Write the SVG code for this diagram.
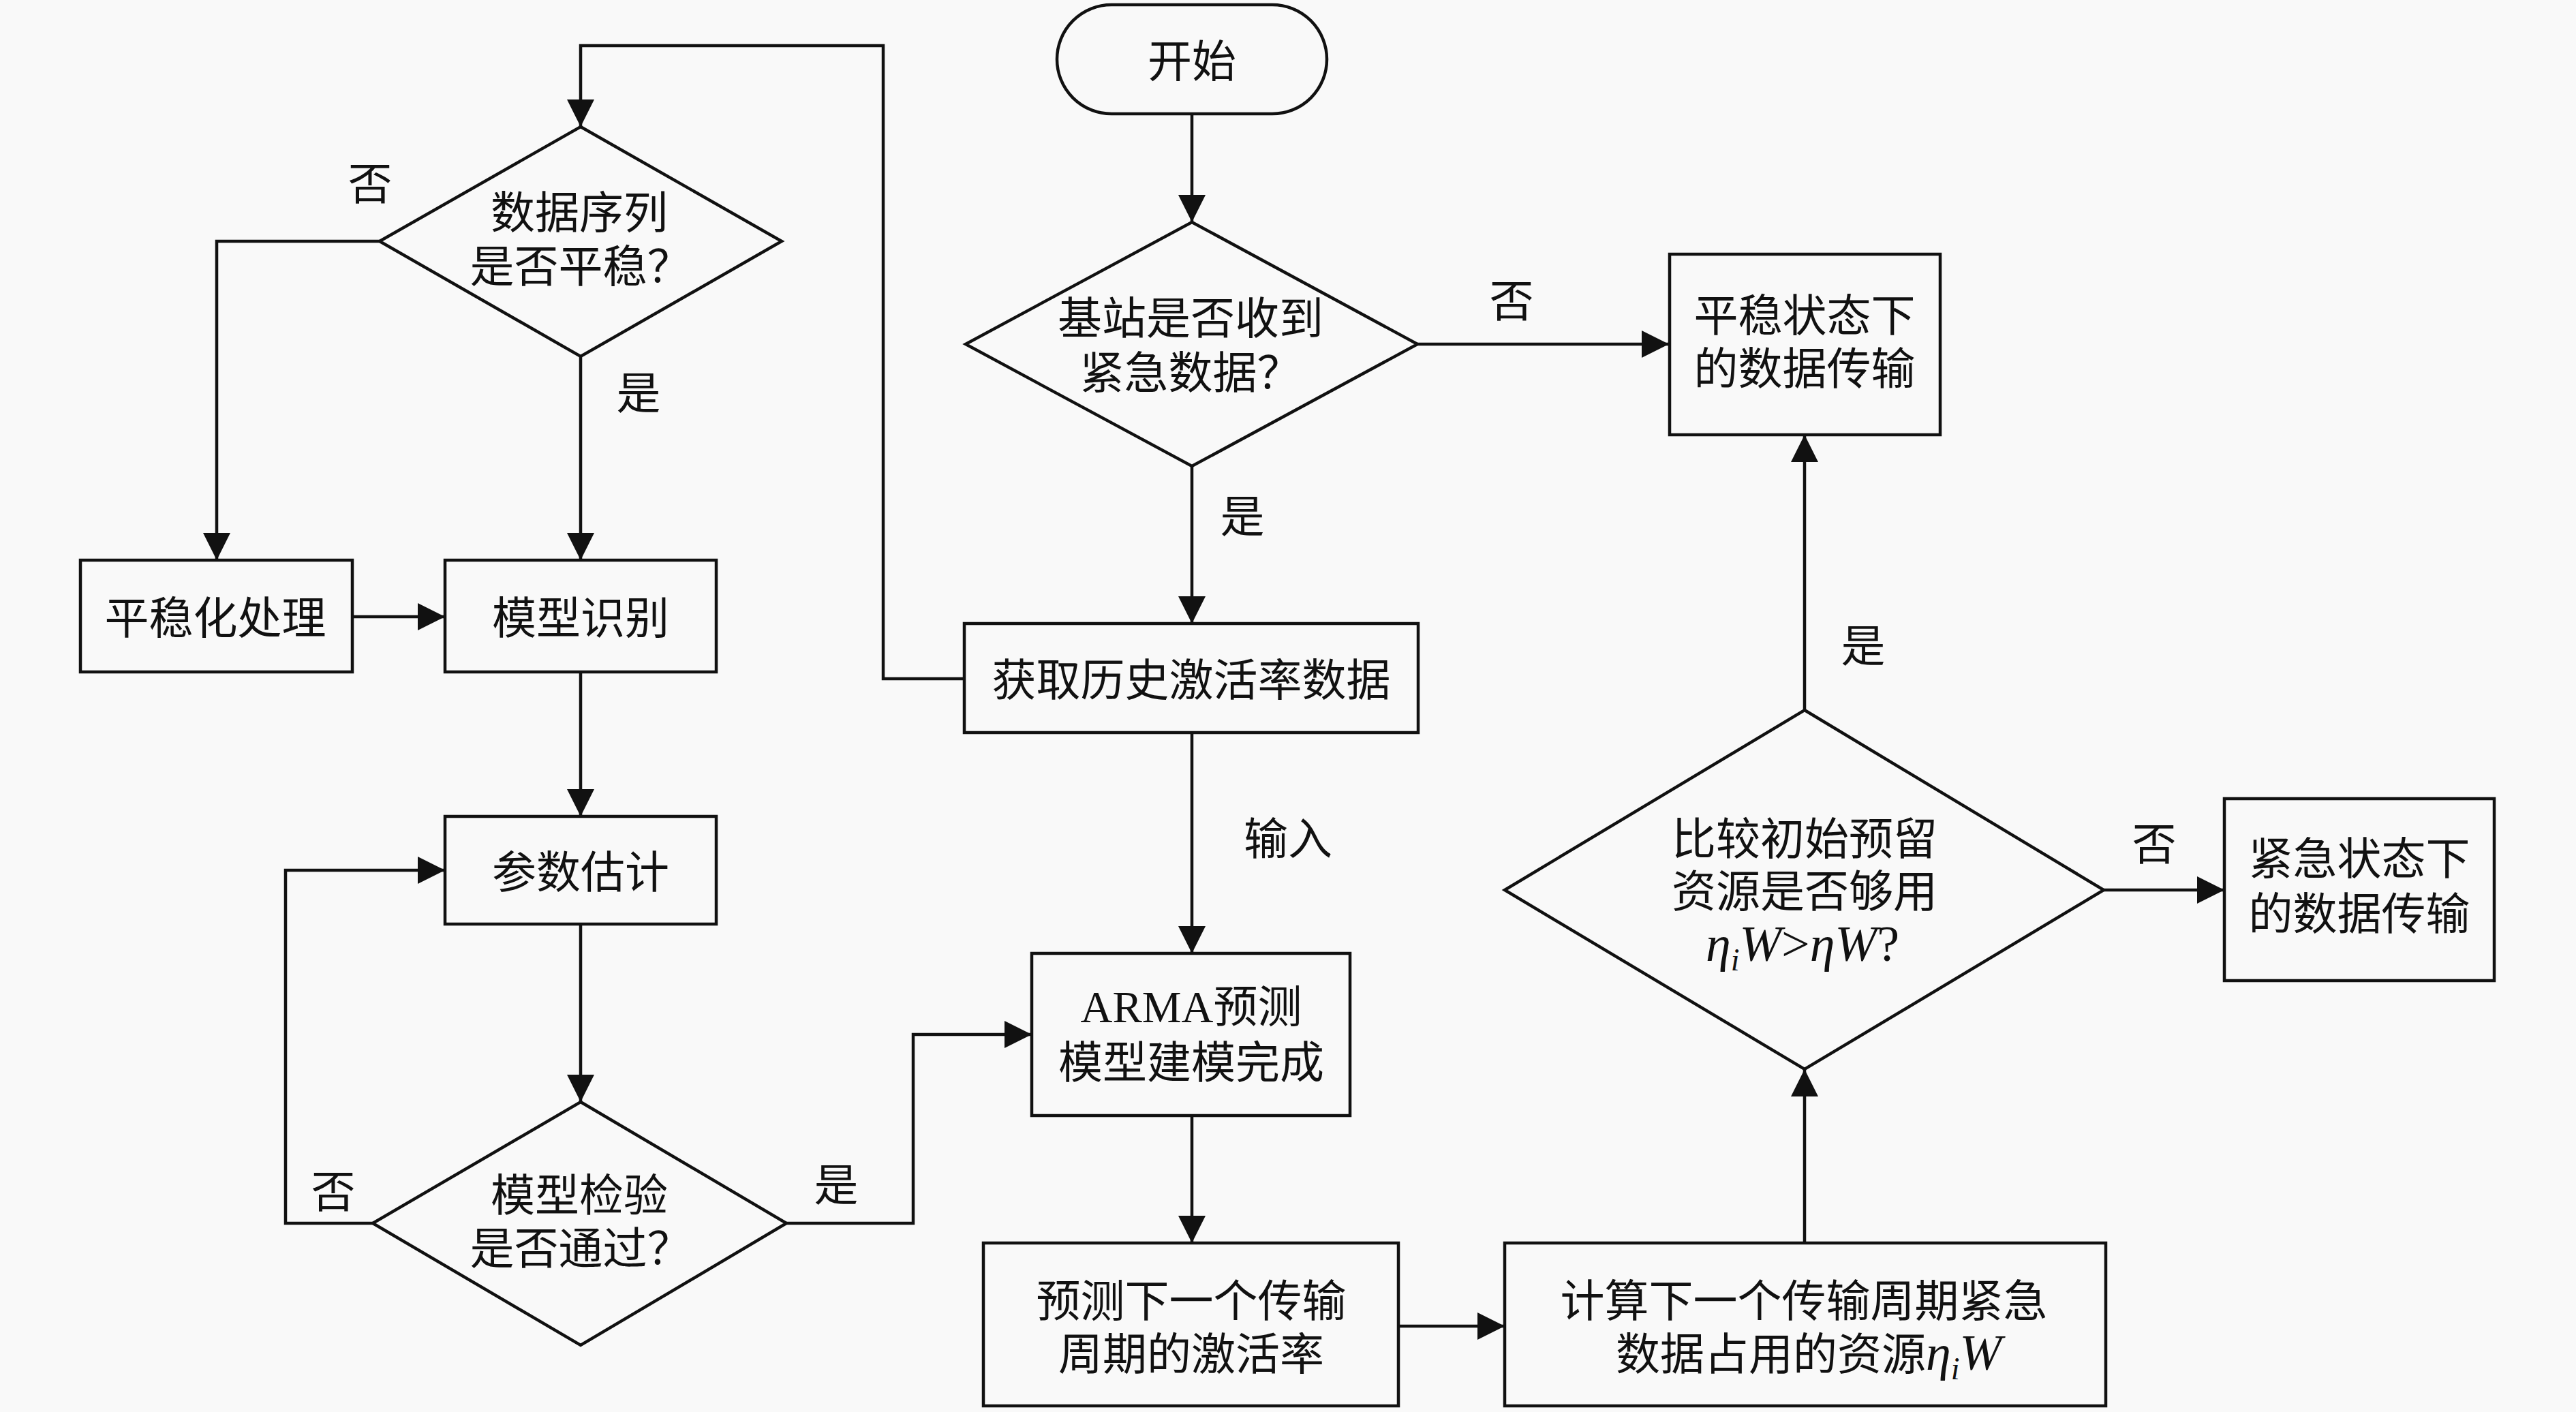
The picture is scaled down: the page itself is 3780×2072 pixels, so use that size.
<svg xmlns="http://www.w3.org/2000/svg" width="3780" height="2072" viewBox="0 0 3780 2072">
<style>
.n{fill:none;stroke:#111;stroke-width:4.5}
.t{font-family:"Liberation Serif","Noto Sans CJK SC",serif;font-size:65px;fill:#111;text-anchor:middle}
.m{font-family:"Liberation Serif",serif;font-style:italic;font-size:74px}
.s{font-family:"Liberation Serif",serif;font-style:italic;font-size:46px}
.c{fill:none;stroke:#111;stroke-width:4.5;marker-end:url(#ah)}
</style>
<defs>
<marker id="ah" viewBox="0 0 40 40" refX="40" refY="20" markerWidth="40" markerHeight="40" markerUnits="userSpaceOnUse" orient="auto">
<path d="M0,0 L40,20 L0,40 Z" fill="#111"/>
</marker>
</defs>
<rect width="3780" height="2072" fill="#f9f9f9"/>

<g id="connectors">
<path class="c" d="M1749,167 V326"/>
<path class="c" d="M2080,505 H2449"/>
<path class="c" d="M1749,684 V915"/>
<path class="c" d="M1415,996 H1296 V67 H852 V186"/>
<path class="c" d="M557,354 H318 V822"/>
<path class="c" d="M852,523 V822"/>
<path class="c" d="M517,905 H653"/>
<path class="c" d="M852,986 V1198"/>
<path class="c" d="M852,1356 V1617"/>
<path class="c" d="M547,1795 H419 V1277 H653"/>
<path class="c" d="M1154,1795 H1340 V1518 H1514"/>
<path class="c" d="M1749,1075 V1399"/>
<path class="c" d="M1749,1637 V1824"/>
<path class="c" d="M2052,1946 H2208"/>
<path class="c" d="M2648,1824 V1569"/>
<path class="c" d="M2648,1042 V638"/>
<path class="c" d="M3087,1306 H3264"/>
</g>

<g id="labels">
<text class="t" x="543" y="293">否</text>
<text class="t" x="937" y="600">是</text>
<text class="t" x="2218" y="465">否</text>
<text class="t" x="1823" y="781">是</text>
<text class="t" x="2734" y="971">是</text>
<text class="t" x="3161" y="1262">否</text>
<text class="t" x="1890" y="1254">输入</text>
<text class="t" x="489" y="1772">否</text>
<text class="t" x="1227" y="1762">是</text>
</g>

<g id="start">
<rect class="n" x="1551" y="7" width="396" height="160" rx="80" ry="80"/>
<text class="t" x="1749" y="113">开始</text>
</g>

<g id="d_urgent">
<polygon class="n" points="1749,326 2080,505 1749,684 1417,505"/>
<text class="t" x="1747" y="490">基站是否收到</text>
<text class="t" x="1747" y="570">紧急数据？</text>
</g>

<g id="b_steady">
<rect class="n" x="2450" y="373" width="397" height="265"/>
<text class="t" x="2648" y="486">平稳状态下</text>
<text class="t" x="2648" y="564">的数据传输</text>
</g>

<g id="b_history">
<rect class="n" x="1415" y="915" width="666" height="160"/>
<text class="t" x="1748" y="1021">获取历史激活率数据</text>
</g>

<g id="d_stationary">
<polygon class="n" points="852,186 1147,354 852,523 557,354"/>
<text class="t" x="850" y="335">数据序列</text>
<text class="t" x="852" y="414">是否平稳？</text>
</g>

<g id="b_smooth">
<rect class="n" x="118" y="822" width="399" height="164"/>
<text class="t" x="316" y="930">平稳化处理</text>
</g>

<g id="b_ident">
<rect class="n" x="653" y="822" width="398" height="164"/>
<text class="t" x="852" y="930">模型识别</text>
</g>

<g id="b_param">
<rect class="n" x="653" y="1198" width="398" height="158"/>
<text class="t" x="852" y="1303">参数估计</text>
</g>

<g id="d_check">
<polygon class="n" points="852,1617 1154,1795 852,1974 547,1795"/>
<text class="t" x="850" y="1777">模型检验</text>
<text class="t" x="852" y="1855">是否通过？</text>
</g>

<g id="b_arma">
<rect class="n" x="1514" y="1399" width="467" height="238"/>
<text class="t" x="1748" y="1500">ARMA预测</text>
<text class="t" x="1748" y="1582">模型建模完成</text>
</g>

<g id="b_predict">
<rect class="n" x="1443" y="1824" width="609" height="239"/>
<text class="t" x="1748" y="1932">预测下一个传输</text>
<text class="t" x="1748" y="2010">周期的激活率</text>
</g>

<g id="b_calc">
<rect class="n" x="2208" y="1824" width="882" height="239"/>
<text class="t" x="2647" y="1932">计算下一个传输周期紧急</text>
<text class="t" x="2654" y="2010">数据占用的资源<tspan class="m">η</tspan><tspan class="s" dy="14">i</tspan><tspan class="m" dy="-14">W</tspan></text>
</g>

<g id="d_compare">
<polygon class="n" points="2648,1042 3087,1306 2648,1569 2208,1306"/>
<text class="t" x="2648" y="1254">比较初始预留</text>
<text class="t" x="2648" y="1331">资源是否够用</text>
<text class="t" x="2645" y="1410"><tspan class="m">η</tspan><tspan class="s" dy="14">i</tspan><tspan class="m" dy="-14">W</tspan><tspan font-family="Liberation Serif" font-size="74">&gt;</tspan><tspan class="m">η</tspan><tspan class="m">W</tspan><tspan font-family="Liberation Serif" font-size="74">?</tspan></text>
</g>

<g id="b_emergency">
<rect class="n" x="3264" y="1172" width="396" height="267"/>
<text class="t" x="3462" y="1283">紧急状态下</text>
<text class="t" x="3462" y="1364">的数据传输</text>
</g>
</svg>
